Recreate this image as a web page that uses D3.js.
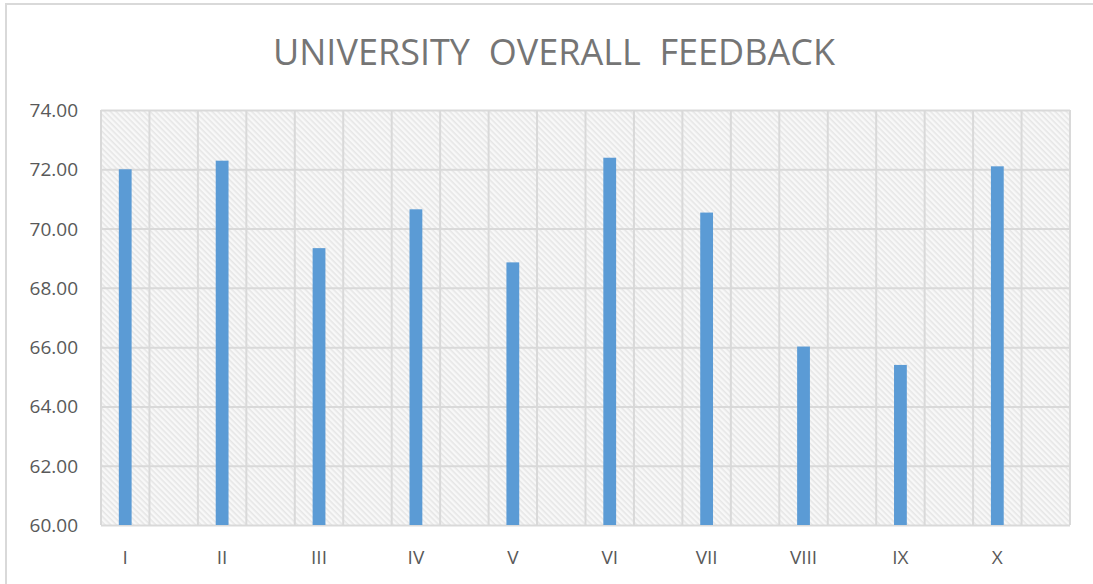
<!DOCTYPE html>
<html>
<head>
<meta charset="utf-8">
<script src="https://d3js.org/d3.v7.min.js"></script>
<style>
    body { margin: 0; background: #fff; }
    text { font-family: "Open Sans", sans-serif; }
</style>
</head>
<body>
<div id="chart"></div>
<script>
    // data
    var categories = ["I", "II", "III", "IV", "V", "VI", "VII", "VIII", "IX", "X"]
    var values = [72.00, 72.29, 69.34, 70.65, 68.86, 72.39, 70.54, 66.02, 65.40, 72.10]
    var yTicks = [60, 62, 64, 66, 68, 70, 72, 74]
    var title = "UNIVERSITY  OVERALL  FEEDBACK"

    var width = 1093, height = 584
    var plot = {left: 101, right: 1070, top: 110, bottom: 525}

    var svg = d3.select("#chart").append("svg")
        .attr("width", width)
        .attr("height", height)

    // hatched fill for the plot area
    var defs = svg.append("defs")
    var pat = defs.append("pattern")
        .attr("id", "hatch")
        .attr("patternUnits", "userSpaceOnUse")
        .attr("width", 4).attr("height", 4)
        .attr("patternTransform", "rotate(45)")
    pat.append("rect").attr("width", 4).attr("height", 4).attr("fill", "#f8f8f8")
    pat.append("rect").attr("width", 4).attr("height", 1.6).attr("fill", "#e6e6e6")

    // outer chart border
    svg.append("rect")
        .attr("x", 6).attr("y", 4)
        .attr("width", width + 10).attr("height", height + 10)
        .attr("fill", "none")
        .attr("stroke", "#d9d9d9")
        .attr("stroke-width", 2)

    var x = d3.scaleBand()
        .domain(categories)
        .range([plot.left, plot.right])
        .padding(0)

    var y = d3.scaleLinear()
        .domain([60, 74])
        .range([plot.bottom, plot.top])

    svg.append("rect")
        .attr("x", plot.left).attr("y", plot.top)
        .attr("width", plot.right - plot.left)
        .attr("height", plot.bottom - plot.top)
        .attr("fill", "url(#hatch)")

    // horizontal gridlines
    svg.append("g")
        .attr("transform", "translate(" + plot.left + ",0)")
        .call(d3.axisLeft(y).tickValues(yTicks).tickSize(-(plot.right - plot.left)).tickFormat(""))
        .call(function(g){ g.select(".domain").remove() })
        .selectAll("line").attr("stroke", "#d9d9d9").attr("stroke-width", 2)

    // vertical gridlines: each category band is split in two
    var vLines = []
    categories.forEach(function(c){
        vLines.push(x(c))
        vLines.push(x(c) + x.bandwidth() / 2)
    })
    vLines.push(plot.right)
    svg.append("g").selectAll("line")
        .data(vLines)
        .enter().append("line")
        .attr("x1", function(d){ return d }).attr("x2", function(d){ return d })
        .attr("y1", plot.top).attr("y2", plot.bottom)
        .attr("stroke", "#d9d9d9")
        .attr("stroke-width", 2)

    // bars sit in the first half of each band
    var barW = 12.8
    svg.append("g").selectAll("rect")
        .data(values)
        .enter().append("rect")
        .attr("x", function(d, i){ return x(categories[i]) + x.bandwidth() / 4 - barW / 2 })
        .attr("y", function(d){ return y(d) })
        .attr("width", barW)
        .attr("height", function(d){ return y(60) - y(d) })
        .attr("fill", "#5b9bd5")

    // y labels
    svg.append("g").selectAll("text")
        .data(yTicks)
        .enter().append("text")
        .attr("x", 78)
        .attr("y", function(d){ return y(d) + 7 })
        .attr("text-anchor", "end")
        .attr("fill", "#595959")
        .style("font-size", "19px")
        .text(function(d){ return d.toFixed(2) })

    // x labels
    svg.append("g").selectAll("text")
        .data(categories)
        .enter().append("text")
        .attr("x", function(d){ return x(d) + x.bandwidth() / 4 })
        .attr("y", 564)
        .attr("text-anchor", "middle")
        .attr("fill", "#595959")
        .style("font-size", "19px")
        .text(function(d){ return d })

    svg.append("text")
        .attr("x", 554)
        .attr("y", 65)
        .attr("text-anchor", "middle")
        .attr("fill", "#757575")
        .style("font-size", "36px")
        .style("white-space", "pre")
        .attr("textLength", 562)
        .attr("lengthAdjust", "spacingAndGlyphs")
        .text(title)
</script>
</body>
</html>
